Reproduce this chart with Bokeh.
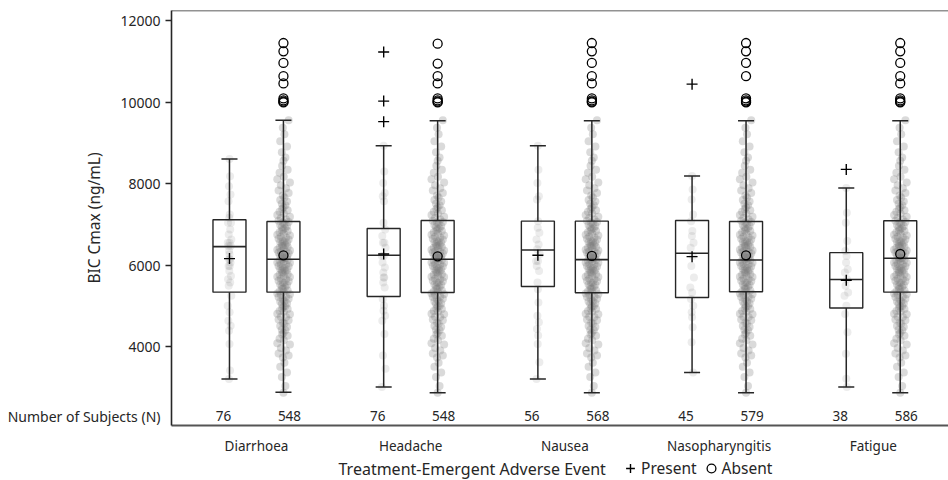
from bokeh.plotting import figure
from bokeh.models import (Range1d, FixedTicker, Label, Legend, LegendItem, Span,
                          LinearAxis)
from bokeh.layouts import column
from bokeh.embed import file_html
from bokeh.resources import INLINE

# ---------------- data ----------------
categories = ["Diarrhoea", "Headache", "Nausea", "Nasopharyngitis", "Fatigue"]
n_present = [76, 76, 56, 45, 38]
n_absent = [548, 548, 568, 579, 586]
y_ticks = [4000, 6000, 8000, 10000, 12000]
n_row_label = "Number of Subjects (N)"
legend_title = "Treatment-Emergent Adverse Event"
group_names = ["Present", "Absent"]

present_q1 = [5341, 5236, 5480, 5211, 4951]
present_median = [6456, 6244, 6374, 6293, 5650]
present_q3 = [7115, 6902, 7081, 7098, 6309]
present_low = [3212, 3016, 3212, 3374, 3016]
present_high = [8602, 8927, 8927, 8187, 7894]
present_mean = [6163, 6276, 6244, 6211, 5634]
present_outliers = [[], [11228, 10024, 9520], [], [10439], [8350]]

absent_q1 = [5341, 5333, 5325, 5350, 5341]
absent_median = [6146, 6146, 6138, 6130, 6171]
absent_q3 = [7073, 7098, 7081, 7073, 7090]
absent_low = [2886, 2878, 2878, 2878, 2878]
absent_high = [9554, 9545, 9545, 9545, 9545]
absent_mean = [6244, 6220, 6228, 6244, 6276]
absent_outliers = [
    [11447, 11244, 10959, 10634, 10456, 10090, 10040, 10010, 9990],
    [11431, 10943, 10634, 10456, 10090, 10040, 10010, 9990],
    [11447, 11244, 10959, 10634, 10456, 10090, 10040, 10010, 9990],
    [11447, 11244, 10959, 10634, 10090, 10040, 10010, 9990],
    [11447, 11244, 10959, 10634, 10456, 10090, 10040, 10010, 9990],
]

present_points = [
    [8602, 8179, 7935, 7732, 7569, 7244, 7163, 7041, 7041, 6878, 6756, 6634, 6553,
     6553, 6472, 6472, 6350, 6268, 6146, 6146, 6065, 5984, 5984, 5862, 5740, 5659,
     5577, 5496, 5252, 5008, 4846, 4642, 4520, 4398, 4073, 3423, 3212],
    [8927, 8301, 8016, 7772, 7691, 7569, 7041, 6878, 6716, 6553, 6553, 6431, 6228,
     6228, 6065, 5943, 5821, 5699, 5699, 5577, 5456, 5171, 5008, 4886, 4764, 4642,
     4317, 3789, 3463, 3016],
    [8927, 8341, 8016, 7691, 7610, 7081, 6919, 6797, 6634, 6512, 6390, 6268, 6106,
     6106, 5984, 5862, 5577, 5415, 5089, 4764, 4602, 4439, 4276, 4073, 3626, 3212],
    [8187, 7854, 7610, 7244, 7081, 6838, 6716, 6553, 6431, 6228, 5984, 5699, 5456,
     5333, 5171, 5008, 4846, 4724, 4480, 4114, 3374],
    [7894, 7285, 7041, 6593, 6350, 6228, 6065, 5902, 5821, 5659, 5496, 5333, 5252,
     5008, 4805, 4358, 3829, 3220, 3016],
]

absent_points = [
    2878, 3040, 3260, 3370, 3510, 3610, 3740, 3790, 3840, 3910, 3970, 4060, 4090,
    4160, 4200, 4270, 4310, 4340, 4410, 4420, 4490, 4510, 4570, 4590, 4650, 4670,
    4730, 4740, 4800, 4810, 4870, 4880, 4930, 4940, 4990, 5000, 5050, 5060, 5110,
    5120, 5170, 5180, 5220, 5230, 5280, 5290, 5310, 5350, 5360, 5380, 5420, 5430,
    5470, 5480, 5520, 5530, 5570, 5580, 5610, 5620, 5660, 5670, 5710, 5720, 5750,
    5770, 5780, 5820, 5830, 5860, 5870, 5890, 5910, 5930, 5950, 5970, 5980, 6020,
    6030, 6060, 6070, 6090, 6110, 6130, 6150, 6170, 6180, 6200, 6220, 6240, 6260,
    6270, 6290, 6310, 6330, 6340, 6360, 6380, 6410, 6430, 6450, 6470, 6480, 6500,
    6520, 6550, 6570, 6580, 6600, 6630, 6650, 6680, 6700, 6730, 6750, 6780, 6810,
    6840, 6850, 6880, 6910, 6930, 6960, 6990, 7020, 7050, 7060, 7090, 7120, 7160,
    7190, 7230, 7270, 7310, 7350, 7380, 7420, 7470, 7510, 7560, 7600, 7660, 7710,
    7770, 7830, 7890, 7960, 8030, 8110, 8170, 8270, 8340, 8440, 8560, 8640, 8770,
    8910, 9040, 9210, 9370, 9554,
]

# ---------------- layout / style ----------------
OFF = 0.175        # offset of present / absent boxes from category centre
BOX_HW = 0.107     # box half width
CAP_HW = 0.052     # whisker cap half width
NLAB_OFF = 0.214   # offset of N labels
N_ROW_Y = 2300     # vertical position of the N row
FONT = "Noto Sans"
DARK = "#262626"
FRAME_L = 171      # left edge of the plotting frame (px)


def spread(n, half):
    # deterministic horizontal spread of the dots (visual jitter only)
    pattern = [0.0, 0.3, -0.25, 0.55, -0.5, 0.15, -0.1, 0.8, -0.75, 0.4, -0.4,
               1.0, -0.95, 0.05, -0.6, 0.65, -0.2]
    return [pattern[i % len(pattern)] * half for i in range(n)]


p = figure(width=948, height=457, output_backend="svg", toolbar_location=None,
           x_range=Range1d(-0.551, 4.488), y_range=Range1d(2073, 12244),
           min_border_left=FRAME_L, min_border_right=0, min_border_top=10,
           min_border_bottom=31)
p.outline_line_color = None
p.xgrid.visible = False
p.ygrid.visible = False
p.background_fill_color = "white"

# ---- jittered dots ----
px, py, ax, ay = [], [], [], []
idx = list(range(len(categories)))
for i in idx:
    vals = present_points[i]
    for v, d in zip(vals, spread(len(vals), 0.012)):
        px.append(i - OFF + d)
        py.append(v)
    for v, d in zip(absent_points, spread(len(absent_points), 0.042)):
        ax.append(i + OFF + d)
        ay.append(v)
p.scatter(px, py, size=8, fill_color="#7f7f7f", fill_alpha=0.15, line_color=None)
p.scatter(ax, ay, size=8, fill_color="#7a7a7a", fill_alpha=0.28, line_color=None)

# ---- boxes ----
for sign, q1, med, q3, lo, hi in [
        (-1, present_q1, present_median, present_q3, present_low, present_high),
        (1, absent_q1, absent_median, absent_q3, absent_low, absent_high)]:
    xc = [i + sign * OFF for i in idx]
    p.quad(left=[x - BOX_HW for x in xc], right=[x + BOX_HW for x in xc],
           bottom=q1, top=q3, fill_color=None, line_color=DARK, line_width=1.4)
    p.segment(x0=[x - BOX_HW for x in xc], x1=[x + BOX_HW for x in xc],
              y0=med, y1=med, line_color=DARK, line_width=1.6)
    p.segment(x0=xc, x1=xc, y0=lo, y1=q1, line_color=DARK, line_width=1.5)
    p.segment(x0=xc, x1=xc, y0=q3, y1=hi, line_color=DARK, line_width=1.5)
    p.segment(x0=[x - CAP_HW for x in xc], x1=[x + CAP_HW for x in xc],
              y0=lo, y1=lo, line_color=DARK, line_width=1.5)
    p.segment(x0=[x - CAP_HW for x in xc], x1=[x + CAP_HW for x in xc],
              y0=hi, y1=hi, line_color=DARK, line_width=1.5)

# ---- means and outliers ----
p.scatter([i - OFF for i in idx], present_mean, marker="cross", size=11,
          line_color="black", line_width=1.4)
p.scatter([i + OFF for i in idx], absent_mean, marker="circle", size=9,
          fill_color=None, line_color="black", line_width=1.3)
pox, poy, aox, aoy = [], [], [], []
for i in idx:
    for v in present_outliers[i]:
        pox.append(i - OFF)
        poy.append(v)
    for v in absent_outliers[i]:
        aox.append(i + OFF)
        aoy.append(v)
p.scatter(pox, poy, marker="cross", size=11, line_color="black", line_width=1.4)
p.scatter(aox, aoy, marker="circle", size=9, fill_color=None, line_color="black",
          line_width=1.3)

# ---- N labels ----
for i in idx:
    for xx, t in [(i - NLAB_OFF, n_present[i]), (i + NLAB_OFF, n_absent[i])]:
        p.add_layout(Label(x=xx, y=N_ROW_Y, text=str(t), text_align="center",
                           text_baseline="middle", text_font=FONT,
                           text_font_size="13.5px", text_color=DARK))

# ---- top border ----
p.add_layout(Span(location=12244, dimension="width", line_color=DARK, line_width=1.5))

# ---- y axes: inner one draws line + ticks, outer one carries the texts ----
yin = p.yaxis[0]
yin.ticker = FixedTicker(ticks=y_ticks)
yin.major_label_overrides = {t: "" for t in y_ticks}
yin.major_label_standoff = 0
yin.major_tick_out = 6
yin.major_tick_in = 0
yin.minor_tick_out = 0
yin.minor_tick_in = 0
yin.axis_line_color = DARK
yin.axis_line_width = 1.6
yin.major_tick_line_color = DARK
yin.major_tick_line_width = 1.4

yout = LinearAxis(ticker=FixedTicker(ticks=[N_ROW_Y] + y_ticks),
                  major_label_overrides={N_ROW_Y: n_row_label})
yout.axis_label = "BIC Cmax (ng/mL)"
yout.axis_label_text_font = FONT
yout.axis_label_text_font_size = "15.5px"
yout.axis_label_text_font_style = "normal"
yout.axis_label_text_color = DARK
yout.axis_label_standoff = -100
yout.major_label_text_font = FONT
yout.major_label_text_font_size = "14px"
yout.major_label_text_color = DARK
yout.major_label_standoff = 5
yout.major_tick_out = 0
yout.major_tick_in = 0
yout.minor_tick_out = 0
yout.minor_tick_in = 0
yout.axis_line_color = None
p.add_layout(yout, "left")

# ---- x axis ----
xax = p.xaxis[0]
xax.ticker = FixedTicker(ticks=idx)
xax.major_label_overrides = {i: c for i, c in enumerate(categories)}
xax.major_label_text_font = FONT
xax.major_label_text_font_size = "13.5px"
xax.major_label_text_color = DARK
xax.major_label_standoff = 11
xax.major_tick_out = 0
xax.major_tick_in = 0
xax.minor_tick_out = 0
xax.minor_tick_in = 0
xax.axis_line_color = "#555555"
xax.axis_line_width = 2

# ---- legend strip (separate figure under the chart; frame aligns with chart) ----
lg = figure(width=948, height=23, output_backend="svg", toolbar_location=None,
            x_range=Range1d(FRAME_L, 948), y_range=Range1d(0, 23),
            min_border=0)
lg.axis.visible = False
lg.grid.visible = False
lg.outline_line_color = None
lr_present = lg.scatter(x=[-100], y=[-100], marker="cross", size=11, line_color="black",
                        line_width=1.4)
lr_absent = lg.scatter(x=[-100], y=[-100], marker="circle", size=9, fill_color=None,
                       line_color="black", line_width=1.3)
lg.add_layout(Label(x=338, y=12, text=legend_title, text_align="left",
                    text_baseline="middle", text_font=FONT, text_font_size="16px",
                    text_color=DARK))
legend = Legend(items=[LegendItem(label=group_names[0], renderers=[lr_present]),
                       LegendItem(label=group_names[1], renderers=[lr_absent])],
                orientation="horizontal", location=(619 - FRAME_L, 1),
                glyph_width=22, glyph_height=22, label_standoff=-3, spacing=3,
                padding=0, margin=0, border_line_color=None,
                background_fill_alpha=0, label_text_font=FONT,
                label_text_font_size="15.5px", label_text_color=DARK,
                label_height=16)
lg.add_layout(legend, "center")

layout = column(p, lg, spacing=0)
open("out.html", "w").write(file_html(layout, INLINE))
